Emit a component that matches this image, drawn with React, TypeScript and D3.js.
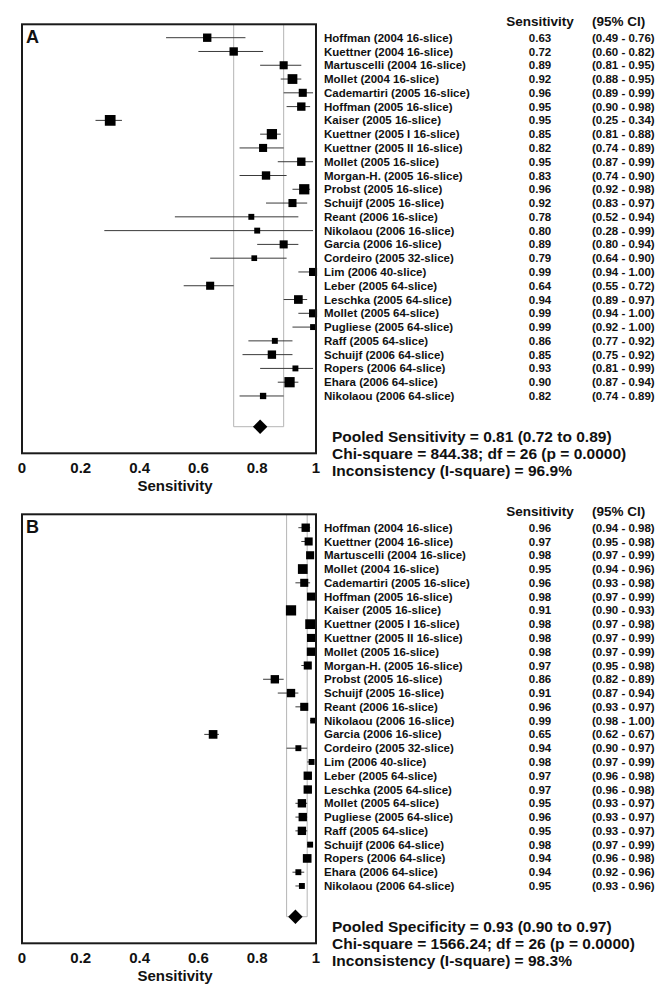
import * as d3 from "d3";

const studies = [
  "Hoffman (2004 16-slice)",
  "Kuettner (2004 16-slice)",
  "Martuscelli (2004 16-slice)",
  "Mollet (2004 16-slice)",
  "Cademartiri (2005 16-slice)",
  "Hoffman (2005 16-slice)",
  "Kaiser (2005 16-slice)",
  "Kuettner (2005 I 16-slice)",
  "Kuettner (2005 II 16-slice)",
  "Mollet (2005 16-slice)",
  "Morgan-H. (2005 16-slice)",
  "Probst (2005 16-slice)",
  "Schuijf (2005 16-slice)",
  "Reant (2006 16-slice)",
  "Nikolaou (2006 16-slice)",
  "Garcia (2006 16-slice)",
  "Cordeiro (2005 32-slice)",
  "Lim (2006 40-slice)",
  "Leber (2005 64-slice)",
  "Leschka (2005 64-slice)",
  "Mollet (2005 64-slice)",
  "Pugliese (2005 64-slice)",
  "Raff (2005 64-slice)",
  "Schuijf (2006 64-slice)",
  "Ropers (2006 64-slice)",
  "Ehara (2006 64-slice)",
  "Nikolaou (2006 64-slice)",
];

// panel A - sensitivity (as plotted)
const sensEst = [0.63, 0.72, 0.89, 0.92, 0.955, 0.95, 0.30, 0.85, 0.82, 0.95, 0.83, 0.96, 0.92, 0.78, 0.80, 0.89, 0.79, 0.99, 0.64, 0.94, 0.99, 0.99, 0.86, 0.85, 0.93, 0.91, 0.82];
const sensLo = [0.49, 0.60, 0.81, 0.88, 0.89, 0.90, 0.25, 0.81, 0.74, 0.87, 0.74, 0.92, 0.83, 0.52, 0.28, 0.80, 0.64, 0.94, 0.55, 0.89, 0.94, 0.92, 0.77, 0.75, 0.81, 0.87, 0.74];
const sensHi = [0.76, 0.82, 0.95, 0.95, 0.99, 0.98, 0.34, 0.88, 0.89, 0.99, 0.90, 0.98, 0.97, 0.94, 0.99, 0.94, 0.90, 1.00, 0.72, 0.97, 1.00, 1.00, 0.92, 0.92, 0.99, 0.94, 0.89];
// values as printed in the table column
const sensText = ["0.63", "0.72", "0.89", "0.92", "0.96", "0.95", "0.95", "0.85", "0.82", "0.95", "0.83", "0.96", "0.92", "0.78", "0.80", "0.89", "0.79", "0.99", "0.64", "0.94", "0.99", "0.99", "0.86", "0.85", "0.93", "0.90", "0.82"];
const sensWeight = [2.8, 2.8, 2.6, 3.8, 2.6, 2.8, 4.6, 4.2, 2.6, 2.8, 2.8, 4.2, 2.6, 1.4, 1.4, 2.6, 1.3, 2.6, 2.6, 3.0, 2.6, 1.4, 1.4, 2.8, 1.4, 4.2, 1.6];
const sensPooled = { est: 0.81, lo: 0.72, hi: 0.89 };
const sensStats = [
  "Pooled Sensitivity = 0.81 (0.72 to 0.89)",
  "Chi-square = 844.38; df = 26 (p = 0.0000)",
  "Inconsistency (I-square) = 96.9%",
];

// panel B - specificity
const specEst = [0.965, 0.975, 0.98, 0.955, 0.96, 0.983, 0.915, 0.98, 0.983, 0.983, 0.972, 0.86, 0.915, 0.96, 0.99, 0.65, 0.94, 0.985, 0.972, 0.972, 0.952, 0.955, 0.952, 0.98, 0.97, 0.94, 0.952];
const specLo = [0.94, 0.95, 0.97, 0.94, 0.93, 0.97, 0.90, 0.97, 0.97, 0.97, 0.95, 0.82, 0.87, 0.93, 0.98, 0.62, 0.90, 0.97, 0.96, 0.96, 0.93, 0.93, 0.93, 0.97, 0.96, 0.92, 0.93];
const specHi = [0.98, 0.98, 0.99, 0.96, 0.98, 0.99, 0.93, 0.98, 0.99, 0.99, 0.98, 0.89, 0.94, 0.97, 1.00, 0.67, 0.97, 0.99, 0.98, 0.98, 0.97, 0.97, 0.97, 0.99, 0.98, 0.96, 0.96];
const specText = ["0.96", "0.97", "0.98", "0.95", "0.96", "0.98", "0.91", "0.98", "0.98", "0.98", "0.97", "0.86", "0.91", "0.96", "0.99", "0.65", "0.94", "0.98", "0.97", "0.97", "0.95", "0.96", "0.95", "0.98", "0.94", "0.94", "0.95"];
const specWeight = [2.8, 2.6, 2.6, 3.8, 2.6, 2.6, 4.2, 3.8, 2.6, 2.8, 2.6, 2.8, 2.8, 2.6, 1.3, 3.0, 1.4, 1.4, 2.8, 2.8, 2.8, 2.8, 2.8, 1.4, 3.0, 1.4, 1.4];
const specPooled = { est: 0.93, lo: 0.90, hi: 0.97 };
const specStats = [
  "Pooled Specificity = 0.93 (0.90 to 0.97)",
  "Chi-square = 1566.24; df = 26 (p = 0.0000)",
  "Inconsistency (I-square) = 98.3%",
];

const FONT = "'Liberation Sans', Arial, Helvetica, sans-serif";
const fmt = d3.format(".2f");

type PanelProps = {
  letter: string;
  top: number;
  est: number[];
  lo: number[];
  hi: number[];
  text: string[];
  weight: number[];
  pooled: { est: number; lo: number; hi: number };
  stats: string[];
};

const Panel = ({ letter, top, est, lo, hi, text, weight, pooled, stats }: PanelProps) => {
  const x = d3.scaleLinear().domain([0, 1]).range([22, 316]);
  const y = d3
    .scaleLinear()
    .domain([0, studies.length - 1])
    .range([top + 13.4, top + 13.4 + 13.78 * (studies.length - 1)]);
  const size = d3.scaleSqrt().domain([0, 4]).range([0, 10]);
  const frameH = 429;
  const dy = top + 402.4;
  const diamond = 7.2;

  return (
    <g>
      {/* pooled CI guide box */}
      <path
        d={`M${x(pooled.lo)},${top} V${dy} H${x(pooled.hi)} V${top}`}
        fill="none"
        stroke="#b5b5b5"
        strokeWidth={1}
      />
      {studies.map((s, i) => (
        <line
          key={"ci" + i}
          x1={x(lo[i])}
          x2={x(hi[i])}
          y1={y(i)}
          y2={y(i)}
          stroke="#3a3a3a"
          strokeWidth={1}
        />
      ))}
      {studies.map((s, i) => {
        const w = size(weight[i]);
        return (
          <rect
            key={"pt" + i}
            x={x(est[i]) - w / 2}
            y={y(i) - w / 2}
            width={w}
            height={w}
            fill="#000"
          />
        );
      })}
      <path
        d={`M${x(pooled.est) - diamond},${dy} L${x(pooled.est)},${dy - diamond} L${x(pooled.est) + diamond},${dy} L${x(pooled.est)},${dy + diamond} Z`}
        fill="#000"
      />
      <rect x={22} y={top} width={294} height={frameH} fill="none" stroke="#1a1a1a" strokeWidth={2} />
      <text x={26} y={top + 19} fontSize={18} fontWeight="bold" fill="#111">
        {letter}
      </text>
      {x.ticks(5).map((t) => (
        <text
          key={"tk" + t}
          x={x(t)}
          y={top + 443}
          dy="0.35em"
          textAnchor="middle"
          fontSize={15}
          fontWeight="bold"
          fill="#111"
        >
          {String(t)}
        </text>
      ))}
      <text x={175} y={top + 461} dy="0.35em" textAnchor="middle" fontSize={15} fontWeight="bold" fill="#111">
        Sensitivity
      </text>

      {/* table */}
      <text x={540} y={top - 2.6} dy="0.35em" textAnchor="middle" fontSize={13.5} fontWeight="bold" fill="#111">
        Sensitivity
      </text>
      <text x={592} y={top - 2.6} dy="0.35em" fontSize={13.5} fontWeight="bold" fill="#111">
        (95% CI)
      </text>
      {studies.map((s, i) => (
        <g key={"row" + i} fontSize={11.5} fontWeight="bold" fill="#111">
          <text x={324} y={y(i)} dy="0.35em">
            {s}
          </text>
          <text x={540} y={y(i)} dy="0.35em" textAnchor="middle">
            {text[i]}
          </text>
          <text x={592} y={y(i)} dy="0.35em">
            {`(${fmt(lo[i])} - ${fmt(hi[i])})`}
          </text>
        </g>
      ))}
      {stats.map((s, i) => (
        <text
          key={"st" + i}
          x={332}
          y={top + 412.7 + i * 16.6}
          dy="0.35em"
          fontSize={15.5}
          fontWeight="bold"
          fill="#111"
        >
          {s}
        </text>
      ))}
    </g>
  );
};

export default function App() {
  return (
    <svg
      width={670}
      height={995}
      style={{ position: "absolute", left: 0, top: 0, background: "#fff" }}
      fontFamily={FONT}
    >
      <rect width={670} height={995} fill="#fff" />
      <Panel
        letter="A"
        top={24.3}
        est={sensEst}
        lo={sensLo}
        hi={sensHi}
        text={sensText}
        weight={sensWeight}
        pooled={sensPooled}
        stats={sensStats}
      />
      <Panel
        letter="B"
        top={514.3}
        est={specEst}
        lo={specLo}
        hi={specHi}
        text={specText}
        weight={specWeight}
        pooled={specPooled}
        stats={specStats}
      />
    </svg>
  );
}
